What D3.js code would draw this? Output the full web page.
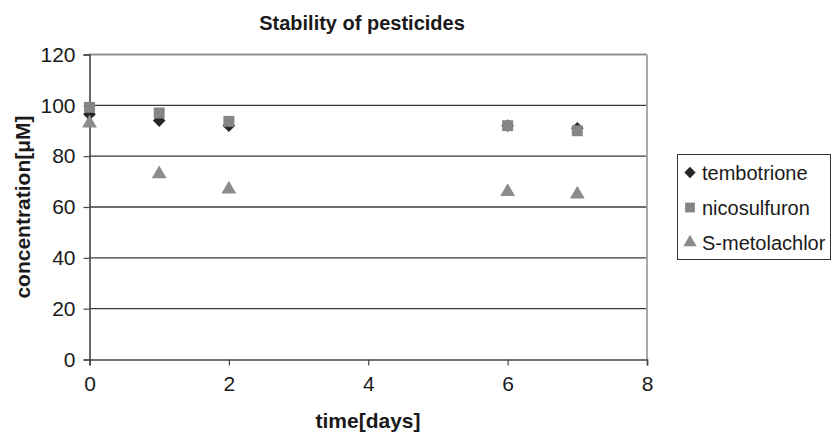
<!DOCTYPE html>
<html>
<head>
<meta charset="utf-8">
<script src="https://cdn.jsdelivr.net/npm/d3@7"></script>
<style>
  body { margin: 0; background: #fff; }
  svg { font-family: "Liberation Sans", Arial, sans-serif; }
</style>
</head>
<body>
<svg id="chart" width="832" height="437"></svg>
<script>
  var days = [0, 1, 2, 6, 7];
  var tembotrione = [96.5, 94, 92, 92, 91];
  var nicosulfuron = [99.2, 97, 93.7, 92, 90];
  var metolachlor = [93, 73, 67, 66, 65];
  var xTicks = [0, 2, 4, 6, 8];
  var yTicks = [0, 20, 40, 60, 80, 100, 120];

  // square diamond (d3's own diamond is too tall)
  var squareDiamond = {
    draw: function(context, size) {
      var r = Math.sqrt(size / 2);
      context.moveTo(0, -r);
      context.lineTo(r, 0);
      context.lineTo(0, r);
      context.lineTo(-r, 0);
      context.closePath();
    }
  };

  var series = [
    { name: 'tembotrione', values: tembotrione, shape: squareDiamond, color: '#262626', size: 80 },
    { name: 'nicosulfuron', values: nicosulfuron, shape: d3.symbolSquare, color: '#858585', size: 120 },
    { name: 'S-metolachlor', values: metolachlor, shape: d3.symbolTriangle, color: '#8c8c8c', size: 95 }
  ];

  var plotLeft = 89.5, plotRight = 647, plotTop = 54.5, plotBottom = 359.5;
  var font = '"Liberation Sans", Arial, sans-serif';

  var svg = d3.select('#chart');

  var x = d3.scaleLinear().domain([0, 8]).range([plotLeft, plotRight]);
  var y = d3.scaleLinear().domain([0, 120]).range([plotBottom, plotTop]);

  // gridlines
  svg.append('g')
    .selectAll('line')
    .data(yTicks.filter(function(d) { return d > 0 && d < 120; }))
    .enter().append('line')
    .attr('x1', plotLeft)
    .attr('x2', plotRight)
    .attr('y1', function(d) { return y(d); })
    .attr('y2', function(d) { return y(d); })
    .attr('stroke', '#3a3a3a')
    .attr('stroke-width', 1.3);

  // plot area border (top / right)
  svg.append('line')
    .attr('x1', plotLeft).attr('x2', plotRight)
    .attr('y1', plotTop).attr('y2', plotTop)
    .attr('stroke', '#8f8f8f').attr('stroke-width', 2);
  svg.append('line')
    .attr('x1', plotRight).attr('x2', plotRight)
    .attr('y1', plotTop).attr('y2', plotBottom)
    .attr('stroke', '#a8a8a8').attr('stroke-width', 2);

  var xAxis = svg.append('g')
    .attr('transform', 'translate(0,' + plotBottom + ')')
    .call(d3.axisBottom(x).tickValues(xTicks).tickSize(6).tickPadding(11).tickFormat(d3.format('d')));
  var yAxis = svg.append('g')
    .attr('transform', 'translate(' + plotLeft + ',0)')
    .call(d3.axisLeft(y).tickValues(yTicks).tickSize(6).tickPadding(8).tickFormat(d3.format('d')));

  [xAxis, yAxis].forEach(function(a) {
    a.select('.domain').attr('stroke', '#444').attr('stroke-width', 1.6);
    a.selectAll('.tick line').attr('stroke', '#444').attr('stroke-width', 1.2);
    a.selectAll('.tick text')
      .attr('fill', '#1a1a1a')
      .style('font-size', '21px')
      .style('font-family', font);
  });

  // markers
  series.forEach(function(s) {
    svg.append('g')
      .selectAll('path')
      .data(s.values)
      .enter().append('path')
      .attr('d', d3.symbol().type(s.shape).size(s.size))
      .attr('transform', function(d, i) { return 'translate(' + x(days[i]) + ',' + y(d) + ')'; })
      .attr('fill', s.color);
  });

  // title and axis labels
  svg.append('text')
    .attr('x', 362)
    .attr('y', 30)
    .attr('text-anchor', 'middle')
    .style('font-size', '20px')
    .style('font-weight', 'bold')
    .attr('fill', '#1a1a1a')
    .text('Stability of pesticides');

  svg.append('text')
    .attr('x', 368)
    .attr('y', 428)
    .attr('text-anchor', 'middle')
    .style('font-size', '21px')
    .style('font-weight', 'bold')
    .attr('fill', '#1a1a1a')
    .text('time[days]');

  svg.append('text')
    .attr('transform', 'translate(30,' + ((plotTop + plotBottom) / 2) + ') rotate(-90)')
    .attr('text-anchor', 'middle')
    .style('font-size', '21px')
    .style('font-weight', 'bold')
    .attr('fill', '#1a1a1a')
    .text('concentration[μM]');

  // legend
  var legend = svg.append('g');
  legend.append('rect')
    .attr('x', 677.5)
    .attr('y', 154.5)
    .attr('width', 153)
    .attr('height', 105)
    .attr('fill', '#fff')
    .attr('stroke', '#333')
    .attr('stroke-width', 1);

  var item = legend.selectAll('g.item')
    .data(series)
    .enter().append('g')
    .attr('class', 'item')
    .attr('transform', function(d, i) { return 'translate(690,' + (172.5 + i * 35) + ')'; });
  item.append('path')
    .attr('d', function(d) { return d3.symbol().type(d.shape).size(d.size * 0.8)(); })
    .attr('fill', function(d) { return d.color; });
  item.append('text')
    .attr('x', 12)
    .attr('y', 7)
    .style('font-size', '20px')
    .attr('fill', '#1a1a1a')
    .text(function(d) { return d.name; });
</script>
</body>
</html>
